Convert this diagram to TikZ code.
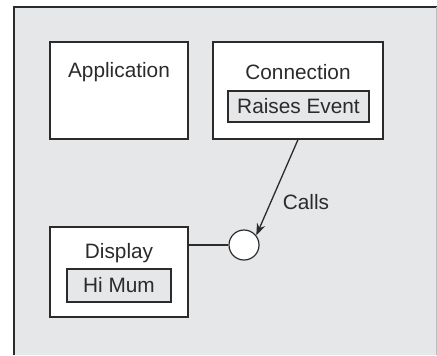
\documentclass[tikz,border=0pt]{standalone}
\usepackage{fontspec}
\setmainfont{Liberation Sans}
\usetikzlibrary{arrows.meta}
\definecolor{panel}{HTML}{E6E7E8}
\definecolor{ink}{HTML}{2B2B2B}
\begin{document}
\begin{tikzpicture}[
    x=0.5pt, y=-0.5pt,
    box/.style={draw=ink, line width=0.6pt, fill=white, minimum width=#1, inner sep=0pt},
    inbox/.style={draw=ink, line width=0.55pt, fill=panel, minimum width=#1, inner sep=0pt},
    txt/.style={font=\fontsize{10.4}{12}\selectfont, text=ink, inner sep=0pt},
    line/.style={draw=ink, line width=0.65pt},
    arrow/.style={line, -{Stealth[length=6pt, width=4.4pt]}}
]
\useasboundingbox (0,0) rectangle (437,355);
% background panel
\fill[panel] (14,7) rectangle (437,355);
\draw[ink, line width=0.8pt] (14,355) -- (14,7) -- (437,7);
\draw[gray!50, line width=0.4pt] (436.5,7) -- (436.5,355);

% boxes
\node[box=69pt, minimum height=48.5pt] (app) at (119,90.5) {};
\node[box=85pt, minimum height=48.5pt] (conn) at (298,90.5) {};
\node[box=69pt, minimum height=45pt] (disp) at (119,272) {};
\node[inbox=70.5pt, minimum height=15.5pt] (raise) at (298.5,106.5) {};
\node[inbox=52pt, minimum height=16.5pt] (himum) at (119,285.5) {};
\node[draw=ink, line width=0.6pt, fill=white, circle, minimum size=15pt, inner sep=0pt] (dot) at (244,245) {};

% texts
\node[txt] (apptext) at (119,72) {Application};
\node[txt] (conntext) at (298,72) {Connection};
\node[txt] (raisetext) at (raise) {Raises Event};
\node[txt] (disptext) at (119,253) {Display};
\node[txt] (himumtext) at (himum) {Hi Mum};
\node[txt] (calls) at (306,202) {Calls};

% connectors
\draw[arrow] (conn.south) -- (dot.38);
\draw[line] (dot.west) -- (dot.west -| disp.east);
\end{tikzpicture}
\end{document}
